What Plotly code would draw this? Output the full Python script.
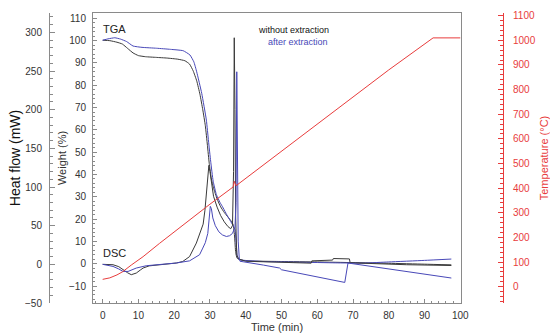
import plotly.graph_objects as go

# ---- data ----
# TGA (weight %) vs time (min)
tga_without_t = [0, 2, 4, 5.5, 7, 8.5, 10, 12, 15, 18, 21, 23, 24.3, 25.3, 26.3, 27.2, 28, 28.7, 29.3, 29.8,
                 30.4, 31, 32, 33, 34, 35, 36, 36.5, 36.9, 37.2, 37.6, 38.5, 40, 50, 60, 70, 80, 90, 97.5]
tga_without_w = [100.2, 100, 99.3, 98.5, 96.5, 94.5, 93.3, 92.8, 92.5, 92.2, 91.7, 91.0, 89.5, 86.5, 82, 76, 69, 62, 53, 45,
                 38, 34, 29, 25.5, 23, 21, 19, 17.5, 12, 5, 2.5, 1.8, 1.3, 1.0, 0.8, 0.5, 0.2, -0.2, -0.5]

tga_after_t = [0, 1.5, 3.4, 5, 6.7, 8.5, 11, 15.1, 19, 22.5, 24.4, 25.5, 26.3, 27.7, 29, 29.6, 30.2, 30.9, 31.8,
               32.8, 33.7, 34.7, 35.6, 36.5, 37.0, 37.3, 37.6, 38, 39, 45, 55, 65, 73, 80, 90, 97.5]
tga_after_w = [100.2, 100.8, 101.3, 100.7, 99.6, 97.6, 97.0, 96.6, 96.1, 95.5, 93.6, 90.5, 86, 76.4, 64.4, 55, 46, 37, 31,
               27.5, 25, 22, 19.5, 17, 15.5, 10, 4, 2, 1.6, 1.0, 0.7, 0.4, 0.3, 0.8, 1.5, 2.1]

# DSC (heat flow mW) vs time (min)
dsc_without_t = [0, 2.9, 4.5, 5.7, 7, 8, 9.4, 10.5, 11.3, 13, 15.9, 18, 20.6, 22.4, 24.3, 26.2, 27.5, 28.1, 28.6, 29.0,
                 29.4, 29.7, 30.0, 30.5, 31, 32, 33, 34, 35, 35.8, 36.3, 36.6, 36.8, 37.0, 37.2, 37.5, 38, 40, 50,
                 58.3, 58.5, 64.3, 64.5, 69.0, 69.2, 75, 85, 97.5]
dsc_without_h = [0, -0.5, -3, -7, -11, -13.4, -11.3, -7.5, -4.8, -2, -0.5, 0.5, 1.7, 3.7, 10, 27.5, 44.7, 52, 70, 95,
                 118, 128, 120, 100, 88, 74, 63, 55, 49, 46, 50, 120, 293, 200, 60, 12, 7, 4, 2.5,
                 1.5, 4.5, 5.5, 7.5, 7, 2, 1, -0.5, -1.5]

dsc_after_t = [0, 2.9, 4.5, 5.7, 7.1, 8.3, 9.4, 12.2, 16, 20.6, 24.3, 27.1, 28, 28.7, 29.4, 29.8, 30.1, 30.4, 30.8,
               31.5, 32.5, 33.5, 34.6, 35.5, 36.3, 37.0, 37.3, 37.5, 37.7, 37.9, 38.2, 38.4, 45, 49.5, 50, 55,
               60, 65, 67.7, 68.6, 75, 80, 85, 90, 97.5]
dsc_after_h = [0, -2.7, -6, -9.2, -9.2, -7, -4.8, -1.8, 0, 1.7, 4.5, 12.4, 21, 28, 40, 58, 75, 72, 60,
               50, 42, 38, 36, 37, 40, 48, 80, 249, 150, 30, 8, 4, -1, -4.8, -7, -11.5,
               -15.5, -20, -23.4, 1.7, -2.5, -6, -9.5, -12.5, -17.7]

# Temperature (°C) vs time (min)
temp_t = [0, 2, 4, 5.6, 8, 11.3, 15.9, 20.6, 30, 36.5, 36.8, 37.3, 40, 50, 60, 70, 80, 92.4, 100]
temp_c = [30, 36, 48, 61, 88, 122, 176, 230, 335, 405, 428, 410, 440, 550, 660, 770, 880, 1010, 1010]

x_ticks = [0, 10, 20, 30, 40, 50, 60, 70, 80, 90, 100]

BLACK = "#3a3a3a"
BLUE = "#4848b8"
RED = "#e83c3c"
AX = "#8a8a8a"
TXT = "#333333"
FONT = "Liberation Sans, Arial, sans-serif"

fig = go.Figure()
fig.add_trace(go.Scatter(x=tga_without_t, y=tga_without_w, mode="lines",
                         line=dict(color=BLACK, width=1, shape="spline", smoothing=0.4), yaxis="y"))
fig.add_trace(go.Scatter(x=tga_after_t, y=tga_after_w, mode="lines",
                         line=dict(color=BLUE, width=1, shape="spline", smoothing=0.4), yaxis="y"))
fig.add_trace(go.Scatter(x=dsc_without_t, y=dsc_without_h, mode="lines",
                         line=dict(color=BLACK, width=1), yaxis="y2"))
fig.add_trace(go.Scatter(x=dsc_after_t, y=dsc_after_h, mode="lines",
                         line=dict(color=BLUE, width=1), yaxis="y2"))
fig.add_trace(go.Scatter(x=temp_t, y=temp_c, mode="lines",
                         line=dict(color=RED, width=1), yaxis="y3"))

L, R = 10, 10
W = 550 - L - R
x0 = (93 - L) / W
x1 = (461 - L) / W

tickfont = dict(family=FONT, size=10, color=TXT)

fig.update_layout(
    width=550, height=333,
    margin=dict(l=L, r=R, t=13, b=30, pad=0),
    paper_bgcolor="white", plot_bgcolor="white",
    showlegend=False,
    font=dict(family=FONT, color=TXT),
    xaxis=dict(domain=[x0, x1], range=[-2.7, 100.2], tickvals=x_ticks, automargin=False,
               ticks="inside", ticklen=4, tickcolor=AX, showline=True, linecolor=AX, linewidth=1,
               mirror=True, showgrid=False, zeroline=False, tickfont=tickfont, ticklabelstandoff=3,
               minor=dict(ticks="inside", ticklen=2, dtick=2, tickcolor=AX),
               title=dict(text="Time (min)", font=dict(family=FONT, size=11, color=TXT), standoff=2)),
    yaxis=dict(range=[-17.6, 112.4], dtick=10, tick0=0, ticks="inside", ticklen=4, tickcolor=AX,
               automargin=False, ticklabelstandoff=4,
               showline=True, linecolor=AX, linewidth=1, mirror=True, showgrid=False, zeroline=False,
               tickfont=tickfont, minor=dict(ticks="inside", ticklen=2, dtick=2, tickcolor=AX),
               title=dict(text="Weight (%)", font=dict(family=FONT, size=11, color=TXT), standoff=0)),
    yaxis2=dict(range=[-50, 325], dtick=50, tick0=0, overlaying="y", anchor="free", side="left",
                position=(49 - L) / W, ticks="inside", ticklen=5, tickcolor=AX, automargin=False,
                ticklabelstandoff=5,
                showline=True, linecolor=AX, linewidth=1, showgrid=False, zeroline=False,
                tickfont=tickfont, minor=dict(ticks="inside", ticklen=3, dtick=10, tickcolor=AX),
                title=dict(text="Heat flow (mW)", font=dict(family=FONT, size=14, color="#111111"), standoff=0)),
    yaxis3=dict(range=[-66, 1111], dtick=100, tick0=0, overlaying="y", anchor="free", side="right",
                position=(503 - L) / W, ticks="inside", ticklen=5, tickcolor=RED, automargin=False,
                ticklabelstandoff=7,
                showline=True, linecolor=RED, linewidth=1, showgrid=False, zeroline=False,
                tickfont=dict(family=FONT, size=10, color=RED),
                minor=dict(ticks="inside", ticklen=3, dtick=20, tickcolor=RED),
                title=dict(text="Temperature (°C)", font=dict(family=FONT, size=11, color=RED), standoff=6)),
    annotations=[
        dict(x=-0.4, y=105.2, xref="x", yref="y", text="TGA", showarrow=False, xanchor="left",
             font=dict(family=FONT, size=11, color="#222222")),
        dict(x=-0.4, y=4.8, xref="x", yref="y", text="DSC", showarrow=False, xanchor="left",
             font=dict(family=FONT, size=11, color="#222222")),
        dict(x=63.8, y=104.8, xref="x", yref="y", text="without extraction", showarrow=False, xanchor="right",
             font=dict(family=FONT, size=9, color="#111111")),
        dict(x=63.6, y=99.4, xref="x", yref="y", text="after extraction", showarrow=False, xanchor="right",
             font=dict(family=FONT, size=9, color=BLUE)),
    ],
)

fig.write_html("out.html", config={"displayModeBar": False},
               post_script="document.body.style.margin='0';document.body.style.padding='0';")
